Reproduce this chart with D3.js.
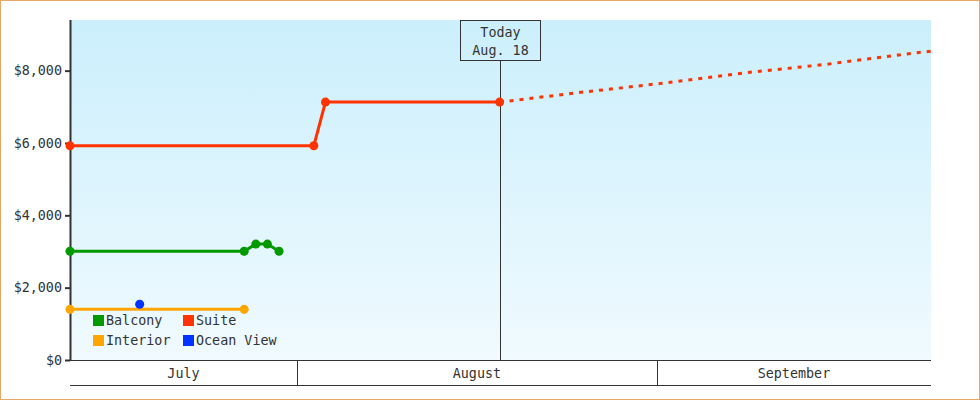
<!DOCTYPE html>
<html>
<head>
<meta charset="utf-8">
<script src="https://cdn.jsdelivr.net/npm/d3@7/dist/d3.min.js"></script>
<style>
  html, body { margin: 0; padding: 0; background: #fff; }
  svg { display: block; }
  text { font-family: "DejaVu Sans Mono", "Liberation Mono", monospace; font-size: 13.4px; fill: #333; }
</style>
</head>
<body>
<script>
// ---- data ----
const seriesNames = ["Balcony", "Suite", "Interior", "Ocean View"];
const seriesColors = ["#009900", "#ff3300", "#ffa500", "#0033ff"];

const balconyDates = ["2023-07-12", "2023-07-27", "2023-07-28", "2023-07-29", "2023-07-30"];
const balconyValues = [3005, 3005, 3205, 3205, 3005];

const suiteDates = ["2023-07-12", "2023-08-02", "2023-08-03", "2023-08-18"];
const suiteValues = [5925, 5925, 7130, 7130];

const interiorDates = ["2023-07-12", "2023-07-27"];
const interiorValues = [1400, 1400];

const oceanDates = ["2023-07-18"];
const oceanValues = [1540];

const forecastDates = ["2023-08-18", "2023-08-25", "2023-09-01", "2023-09-08", "2023-09-15", "2023-09-22", "2023-09-25"];
const forecastValues = [7130, 7400, 7650, 7935, 8170, 8460, 8570];

const yTicks = [0, 2000, 4000, 6000, 8000];
const monthLabels = ["July", "August", "September"];
const todayDate = "2023-08-18";
const todayLabel = ["Today", "Aug. 18"];
const domainStart = "2023-07-12T11:00";
const domainEnd = "2023-09-24T14:30";

(function () {
// ---- helpers ----
const parseDay = s => { const [yy, m, d] = s.split("-").map(Number); return new Date(yy, m - 1, d, 11, 0); };
const parseDT = s => { const [dp, tp] = s.split("T"); const [yy, m, d] = dp.split("-").map(Number); const [hh, mm] = tp.split(":").map(Number); return new Date(yy, m - 1, d, hh, mm); };
const zip = (ds, vs) => ds.map((d, i) => ({ date: parseDay(d), value: vs[i] }));

const W = 980, H = 400;
const pLeft = 70, pRight = 931, pTop = 20, pBottom = 360, axisBottom = 385;

const svg = d3.select("body").append("svg").attr("width", W).attr("height", H);

const defs = svg.append("defs");
const grad = defs.append("linearGradient").attr("id", "bg").attr("x1", 0).attr("y1", 0).attr("x2", 0).attr("y2", 1);
grad.append("stop").attr("offset", "0%").attr("stop-color", "#cbeffc");
grad.append("stop").attr("offset", "100%").attr("stop-color", "#f0faff");
defs.append("clipPath").attr("id", "clip").append("rect")
  .attr("x", pLeft).attr("y", pTop).attr("width", pRight - pLeft).attr("height", pBottom - pTop);

// outer border
svg.append("rect").attr("x", 0.5).attr("y", 0.5).attr("width", W - 1).attr("height", H - 1)
  .attr("fill", "#fff").attr("stroke", "#e9a963").attr("stroke-width", 1);

// plot background
svg.append("rect").attr("x", pLeft).attr("y", pTop).attr("width", pRight - pLeft).attr("height", pBottom - pTop)
  .attr("fill", "url(#bg)");

const x = d3.scaleTime().domain([parseDT(domainStart), parseDT(domainEnd)]).range([pLeft, pRight]);
const y = d3.scaleLinear().domain([0, 9400]).range([pBottom, pTop]);

// today marker
const tx = Math.round(x(parseDay(todayDate))) + 0.5;
svg.append("line").attr("x1", tx).attr("x2", tx).attr("y1", 60.5).attr("y2", pBottom)
  .attr("stroke", "#333").attr("stroke-width", 1);
svg.append("rect").attr("x", tx - 40).attr("y", 20.5).attr("width", 80).attr("height", 40)
  .attr("fill", "none").attr("stroke", "#333").attr("stroke-width", 1);
svg.append("text").attr("x", tx).attr("y", 37).attr("text-anchor", "middle").text(todayLabel[0]);
svg.append("text").attr("x", tx).attr("y", 55).attr("text-anchor", "middle").text(todayLabel[1]);

// x axis (month bands)
const xa = svg.append("g");
xa.append("line").attr("x1", pLeft).attr("x2", pRight).attr("y1", pBottom + 0.5).attr("y2", pBottom + 0.5).attr("stroke", "#333");
xa.append("line").attr("x1", pLeft).attr("x2", pRight).attr("y1", axisBottom + 0.5).attr("y2", axisBottom + 0.5).attr("stroke", "#333");
const [d0, d1] = x.domain();
const bounds = d3.timeMonth.range(d3.timeMonth.ceil(d0), d1);
bounds.forEach(b => {
  const bx = Math.round(x(b)) + 0.5;
  xa.append("line").attr("x1", bx).attr("x2", bx).attr("y1", pBottom).attr("y2", axisBottom).attr("stroke", "#333");
});
const edges = [d0, ...bounds, d1];
monthLabels.forEach((m, i) => {
  const cx = (x(edges[i]) + x(edges[i + 1])) / 2;
  xa.append("text").attr("x", cx).attr("y", 378).attr("text-anchor", "middle").text(m);
});

// y axis
const ya = svg.append("g").attr("transform", `translate(${pLeft},0)`)
  .call(d3.axisLeft(y).tickValues(yTicks).tickSize(5).tickPadding(3).tickFormat(d => "$" + d3.format(",")(d)));
ya.select(".domain").remove();
ya.selectAll(".tick line").attr("stroke", "#333").attr("stroke-width", 2);
ya.selectAll(".tick text").style("fill", "#333");
ya.attr("font-family", null).attr("font-size", null);
svg.append("line").attr("x1", pLeft + 0.5).attr("x2", pLeft + 0.5).attr("y1", pTop).attr("y2", pBottom + 1)
  .attr("stroke", "#333").attr("stroke-width", 2);

// lines
const line = d3.line().x(d => x(d.date)).y(d => y(d.value));
const g = svg.append("g").attr("clip-path", "url(#clip)");
const series = [
  { name: "Interior", data: zip(interiorDates, interiorValues), color: seriesColors[2] },
  { name: "Balcony", data: zip(balconyDates, balconyValues), color: seriesColors[0] },
  { name: "Suite", data: zip(suiteDates, suiteValues), color: seriesColors[1] },
  { name: "Ocean View", data: zip(oceanDates, oceanValues), color: seriesColors[3] }
];
g.append("path").datum(zip(forecastDates, forecastValues)).attr("d", line)
  .attr("fill", "none").attr("stroke", seriesColors[1]).attr("stroke-width", 3).attr("stroke-dasharray", "4,6");
series.forEach(s => {
  if (s.data.length > 1) {
    g.append("path").datum(s.data).attr("d", line)
      .attr("fill", "none").attr("stroke", s.color).attr("stroke-width", 3);
  }
});
series.forEach(s => {
  svg.append("g").selectAll("path").data(s.data).join("path")
    .attr("d", d3.symbol(d3.symbolCircle, 64))
    .attr("transform", d => `translate(${x(d.date)},${y(d.value)})`).attr("fill", s.color);
});

// legend
const legendPos = [[93, 315], [183, 315], [93, 335], [183, 335]];
seriesNames.forEach((n, i) => {
  const [lx, ly] = legendPos[i];
  svg.append("rect").attr("x", lx).attr("y", ly).attr("width", 11).attr("height", 11).attr("fill", seriesColors[i]);
  svg.append("text").attr("x", lx + 13).attr("y", ly + 10).text(n);
});
})();
</script>
</body>
</html>
